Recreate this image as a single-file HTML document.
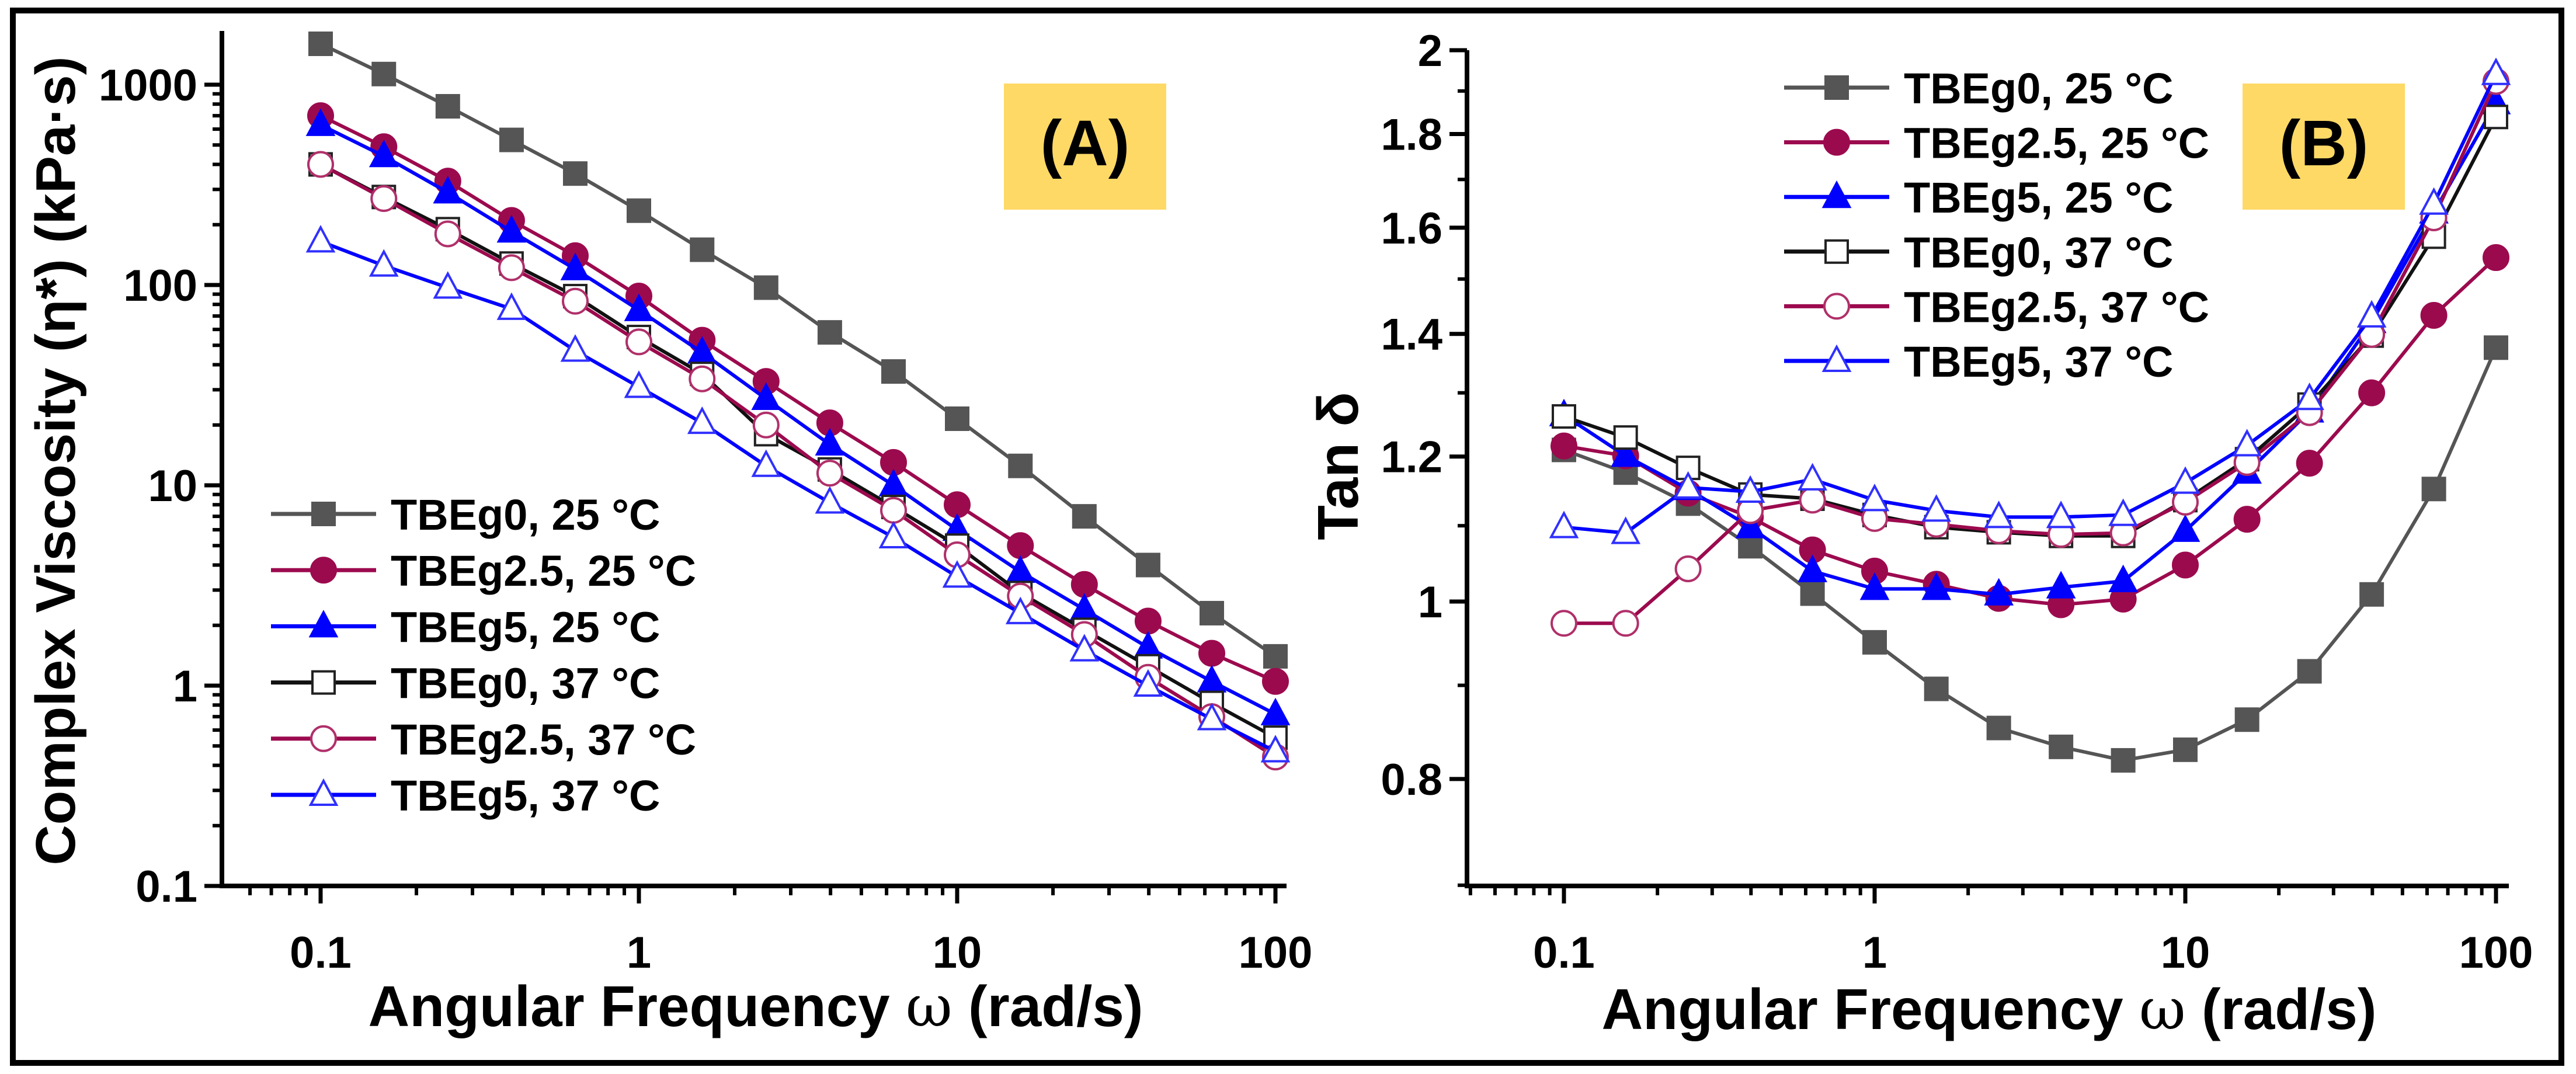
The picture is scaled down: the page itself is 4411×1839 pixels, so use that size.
<!DOCTYPE html>
<html><head><meta charset="utf-8"><style>
html,body{margin:0;padding:0;background:#fff;}
svg{display:block;font-family:"Liberation Sans",Arial,sans-serif;font-weight:bold;}
</style></head><body>
<svg id="fig" width="4411" height="1839" viewBox="0 0 4411 1839" xmlns="http://www.w3.org/2000/svg">
<rect x="22" y="18" width="4364" height="1802" fill="#fff" stroke="#000" stroke-width="10"/>
<g id="pa"></g>
<g id="pb"></g>
</svg>
<script>
const freqs = [0.1,0.158,0.251,0.398,0.631,1,1.58,2.51,3.98,6.31,10,15.8,25.1,39.8,63.1,100];
const seriesNames = ["TBEg0, 25 °C","TBEg2.5, 25 °C","TBEg5, 25 °C","TBEg0, 37 °C","TBEg2.5, 37 °C","TBEg5, 37 °C"];
const viscG0_25 = [1600,1130,780,530,360,235,150,97,58,37,21.5,12.5,7,4,2.3,1.4];
const viscG25_25 = [700,490,330,210,140,88,53,33,20.5,13,8,5,3.2,2.1,1.45,1.05];
const viscG5_25 = [630,440,290,185,120,75,46,27,16,10,6,3.7,2.4,1.55,1.05,0.72];
const viscG0_37 = [400,275,190,128,88,55,36,18,12,7.8,5,2.9,1.9,1.25,0.82,0.55];
const viscG25_37 = [400,270,180,122,83,52,34,20,11.5,7.5,4.5,2.8,1.8,1.1,0.7,0.44];
const viscG5_37 = [165,125,97,76,47,31,20.5,12.5,8.2,5.5,3.5,2.3,1.5,1.0,0.68,0.47];
const tanG0_25 = [1.21,1.176,1.131,1.072,1.01,0.95,0.896,0.853,0.833,0.819,0.83,0.862,0.916,1.009,1.152,1.376];
const tanG25_25 = [1.216,1.201,1.146,1.112,1.067,1.039,1.022,1.004,0.996,1.003,1.047,1.109,1.19,1.3,1.433,1.541];
const tanG5_25 = [1.264,1.201,1.152,1.098,1.039,1.016,1.016,1.009,1.018,1.026,1.093,1.176,1.27,1.421,1.631,1.871];
const tanG0_37 = [1.262,1.229,1.183,1.144,1.138,1.115,1.098,1.091,1.086,1.086,1.136,1.196,1.281,1.397,1.582,1.839];
const tanG25_37 = [0.973,0.973,1.042,1.121,1.136,1.11,1.102,1.093,1.088,1.09,1.133,1.191,1.268,1.399,1.62,1.923];
const tanG5_37 = [1.098,1.09,1.154,1.148,1.166,1.136,1.121,1.112,1.112,1.115,1.161,1.217,1.29,1.431,1.649,1.941];
const xTickLabels = ["0.1","1","10","100"];
const viscTickLabels = ["0.1","1","10","100","1000"];
const tanTickLabels = ["0.8","1","1.2","1.4","1.6","1.8","2"];

const NS="http://www.w3.org/2000/svg";
function mk(parent,tag,attrs,text){const e=document.createElementNS(NS,tag);for(const k in attrs)e.setAttribute(k,attrs[k]);if(text!==undefined)e.textContent=text;parent.appendChild(e);return e;}
const styles=[
 {c:"#555555",f:"#555555",m:"sq",lc:"#555555"},
 {c:"#9c0a4e",f:"#9c0a4e",m:"ci",lc:"#9c0a4e"},
 {c:"#0000ff",f:"#0000ff",m:"tr",lc:"#0000ff"},
 {c:"#222222",f:"#ffffff",m:"sq",lc:"#111111"},
 {c:"#b0306a",f:"#ffffff",m:"ci",lc:"#9c0a4e"},
 {c:"#3030ff",f:"#ffffff",m:"tr",lc:"#0000ff"}];
function marker(g,s,x,y,name){
  let e;
  if(s.m==="sq"){e=mk(g,"rect",{x:x-19,y:y-19,width:38,height:38,fill:s.f,stroke:s.c,"stroke-width":4});}
  else if(s.m==="ci"){e=mk(g,"circle",{cx:x,cy:y,r:21,fill:s.f,stroke:s.c,"stroke-width":4});}
  else {e=mk(g,"polygon",{points:`${x},${y-24} ${x+22},${y+17} ${x-22},${y+17}`,fill:s.f,stroke:s.c,"stroke-width":4});}
  
  
}
function drawPanel(gid,cfg){
  const g=document.getElementById(gid);
  const X=v=>cfg.x0+(Math.log10(v)-cfg.lx0)*cfg.dx;
  const Y=v=>cfg.yfun(v);
  const ax=mk(g,"path",{d:`M${cfg.left},${cfg.top} L${cfg.left},${cfg.bottom} L${cfg.right},${cfg.bottom}`,fill:"none",stroke:"#000","stroke-width":8});
  
  
  for(let d=-2;d<=2;d++){for(let m=1;m<=9;m++){const v=m*Math.pow(10,d);const px=X(v);if(px<cfg.left+5||px>cfg.right)continue;
    const maj=m===1;const t=mk(g,"line",{x1:px,y1:cfg.bottom,x2:px,y2:cfg.bottom+(maj?30:16),stroke:"#000","stroke-width":maj?7:6});
    }}
  xTickLabels.forEach(l=>{const t=mk(g,"text",{x:X(parseFloat(l)),y:cfg.bottom+140,"font-size":76,"text-anchor":"middle"},l);
    });
  cfg.yMinor.forEach(v=>{const py=Y(v);if(py<cfg.top-2||py>cfg.bottom)return;const t=mk(g,"line",{x1:cfg.left,y1:py,x2:cfg.left-16,y2:py,stroke:"#000","stroke-width":6});
    });
  cfg.yLabels.forEach(l=>{const py=Y(parseFloat(l));mk(g,"line",{x1:cfg.left,y1:py,x2:cfg.left-30,y2:py,stroke:"#000","stroke-width":7});
    const t=mk(g,"text",{x:cfg.left-42,y:py+27,"font-size":76,"text-anchor":"end"},l);
    });
  const xt=mk(g,"text",{x:cfg.xtX,y:cfg.xtY,"font-size":98,"text-anchor":"middle"});
  
  mk(xt,"tspan",{},"Angular Frequency ");mk(xt,"tspan",{"font-family":"DejaVu Serif, serif","font-weight":"normal"},"ω");mk(xt,"tspan",{}," (rad/s)");
  const yt=mk(g,"text",{x:0,y:0,"font-size":cfg.ytSize,"text-anchor":"middle",transform:`translate(${cfg.ytX},${cfg.ytY}) rotate(-90)`},cfg.ytText);
  
  const bx=mk(g,"rect",{x:cfg.box[0],y:cfg.box[1],width:278,height:216,fill:"#ffd966"});
  
  const bt=mk(g,"text",{x:cfg.box[0]+139,y:cfg.box[1]+140,"font-size":110,"text-anchor":"middle"},cfg.label);
  
  cfg.series.forEach((arr,i)=>{const s=styles[i];const sg=mk(g,"g",{});
    
    
    const pts=freqs.map((f,k)=>X(f).toFixed(1)+","+Y(arr[k]).toFixed(1)).join(" ");
    const pl=mk(sg,"polyline",{points:pts,fill:"none",stroke:s.lc,"stroke-width":6});
    
    freqs.forEach((f,k)=>marker(sg,s,X(f),Y(arr[k]),'data-point'));});
  const lg=mk(g,"g",{});
  seriesNames.forEach((n,i)=>{const s=styles[i];const y=cfg.leg[1]+i*cfg.leg[2];const eg=mk(lg,"g",{});
    
    mk(eg,"line",{x1:cfg.leg[0]-90,y1:y,x2:cfg.leg[0]+90,y2:y,stroke:s.lc,"stroke-width":7});
    marker(eg,s,cfg.leg[0],y,'legend-marker');
    mk(eg,"text",{x:cfg.leg[0]+115,y:y+27,"font-size":74},n);});
}
const minorLog=[];for(let d=-2;d<=3;d++)for(let m=2;m<=9;m++)minorLog.push(m*Math.pow(10,d));
drawPanel("pa",{x0:549,lx0:-1,dx:545,left:380,right:2203,top:53,bottom:1517,
  yfun:v=>1517-(Math.log10(v)+1)*343,yMinor:minorLog,yLabels:viscTickLabels,
  xtX:1294,xtY:1757,ytX:128,ytY:789,ytSize:96,ytText:"Complex Viscosity (η*) (kPa·s)",
  box:[1719,143],label:"(A)",series:[viscG0_25,viscG25_25,viscG5_25,viscG0_37,viscG25_37,viscG5_37],leg:[554,880,96.2]});
drawPanel("pb",{x0:2678,lx0:-1,dx:532,left:2512,right:4296,top:86,bottom:1517,
  yfun:v=>1030-Math.log10(v)*3136,yMinor:[0.7,0.9,1.1,1.3,1.5,1.7,1.9],yLabels:tanTickLabels,
  xtX:3406,xtY:1762,ytX:2325,ytY:798,ytSize:98,ytText:"Tan δ",
  box:[3840,143],label:"(B)",series:[tanG0_25,tanG25_25,tanG5_25,tanG0_37,tanG25_37,tanG5_37],leg:[3145,150,93.6]});
</script>
</body></html>
